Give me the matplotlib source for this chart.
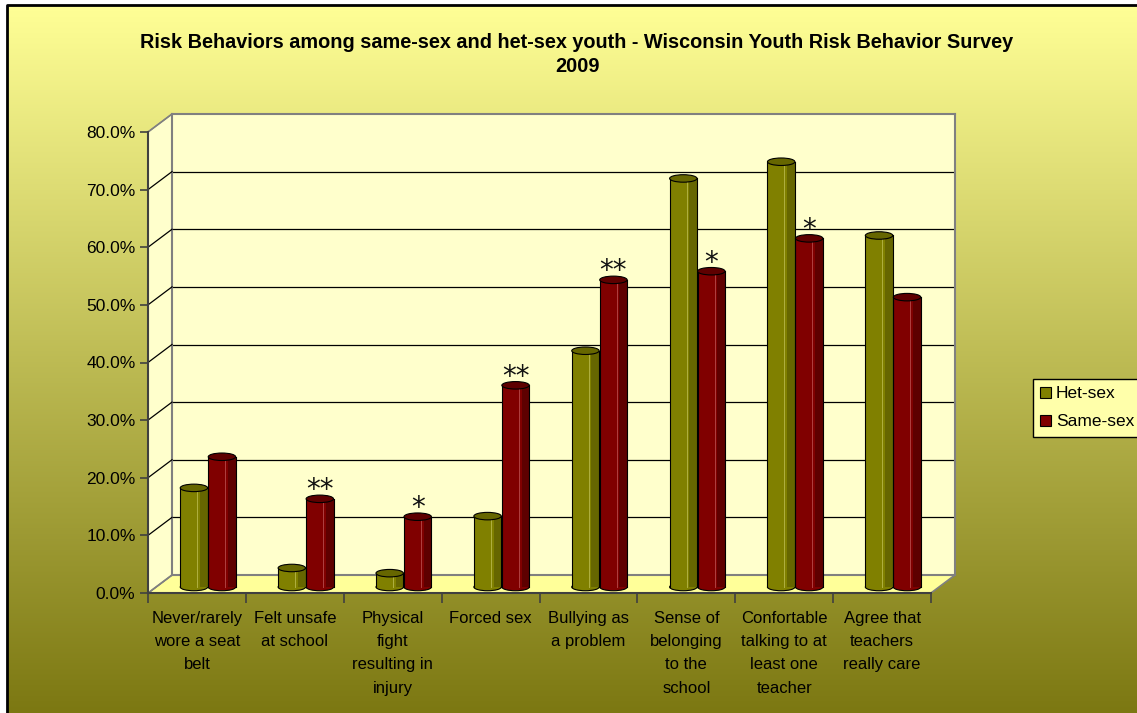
import numpy as np
import matplotlib
matplotlib.use("Agg")
import matplotlib.pyplot as plt
import matplotlib.transforms as mtransforms
from matplotlib.patches import Ellipse, Polygon, Rectangle

plt.rcParams['font.family'] = ['Liberation Sans', 'DejaVu Sans']

# data
categories = ["Never/rarely\nwore a seat\nbelt", "Felt unsafe\nat school",
              "Physical\nfight\nresulting in\ninjury", "Forced sex",
              "Bullying as\na problem", "Sense of\nbelonging\nto the\nschool",
              "Confortable\ntalking to at\nleast one\nteacher",
              "Agree that\nteachers\nreally care"]
het_sex = [17.2, 3.3, 2.4, 12.3, 41.0, 70.9, 73.8, 61.0]
same_sex = [22.6, 15.3, 12.2, 35.0, 53.3, 54.8, 60.5, 50.3]
signif = ["", "**", "*", "**", "**", "*", "*", ""]
yticks = [0, 10, 20, 30, 40, 50, 60, 70, 80]

W, H = 1137, 713
fig = plt.figure(figsize=(W / 100, H / 100), dpi=100)
fig.patch.set_facecolor('white')

# background gradient of the chart area
bg = fig.add_axes([7 / W, 0, 1 - 7 / W, (H - 5) / H], zorder=0)
top_c = np.array([255, 255, 150]) / 255
bot_c = np.array([124, 120, 18]) / 255
t = np.linspace(0, 1, 256)[:, None]
grad = top_c[None, :] * (1 - t) + bot_c[None, :] * t
bg.imshow(grad[:, None, :], aspect='auto', extent=[0, 1, 0, 1])
bg.set_xlim(0, 1)
bg.set_ylim(0, 1)
bg.set_xticks([])
bg.set_yticks([])
for s in bg.spines.values():
    s.set_visible(False)
bg.plot([0, 0, 1], [0, 1, 1], color='black', lw=2, transform=bg.transAxes, clip_on=False)

# back wall
x0, y0, x1, y1 = 172, 575, 955, 114
ax = fig.add_axes([x0 / W, (H - y0) / H, (x1 - x0) / W, (y0 - y1) / H], zorder=1)
ax.set_facecolor('#FFFFCC')
ax.set_xlim(0, 8)
ax.set_ylim(0, 80)
ax.set_xticks([])
ax.set_yticks([])
for s in ax.spines.values():
    s.set_color('#808080')
    s.set_linewidth(1.5)
for v in yticks[1:-1]:
    ax.axhline(v, color='black', lw=0.9, zorder=1)

front = mtransforms.ScaledTranslation(-24 / 100, -18 / 100, fig.dpi_scale_trans)
mid = mtransforms.ScaledTranslation(-13 / 100, -12 / 100, fig.dpi_scale_trans)
tr_front = ax.transData + front
tr_mid = ax.transData + mid

# floor and side wall
floor_back = ax.transData.transform([(0, 0), (8, 0)])
floor_front = tr_front.transform([(8, 0), (0, 0)])
ax.add_patch(Polygon(np.vstack([floor_back, floor_front]), closed=True,
                     transform=None, facecolor='#FFFF99', edgecolor='#808080',
                     lw=1.2, clip_on=False, zorder=2))
side_back = ax.transData.transform([(0, 0), (0, 80)])
side_front = tr_front.transform([(0, 80), (0, 0)])
ax.add_patch(Polygon(np.vstack([side_back, side_front]), closed=True,
                     transform=None, facecolor='#FFFFCC', edgecolor='#808080',
                     lw=1.2, clip_on=False, zorder=2))
for v in yticks:
    p = np.vstack([tr_front.transform((0, v)), ax.transData.transform((0, v))])
    ax.plot(p[:, 0], p[:, 1], transform=None, color='black' if 0 < v < 80 else '#808080',
            lw=0.9, clip_on=False, zorder=3)

# cylinder bars
bw = 0.28
xs = np.arange(len(categories)) + 0.5


def cylinder(x, v, base, dark, light):
    ax.add_patch(Ellipse((x, 0), bw, 1.3, transform=tr_mid, facecolor=base,
                         edgecolor='black', lw=0.8, clip_on=False, zorder=4))
    ax.add_patch(Rectangle((x - bw / 2, 0), bw, v, transform=tr_mid, facecolor=base,
                           edgecolor='none', clip_on=False, zorder=5))
    ax.add_patch(Rectangle((x + bw * 0.22, 0), bw * 0.28, v, transform=tr_mid,
                           facecolor=dark, edgecolor='none', clip_on=False, zorder=5))
    ax.plot([x + bw * 0.12, x + bw * 0.12], [0, v], transform=tr_mid, color=light,
            lw=0.7, clip_on=False, zorder=6)
    ax.plot([x - bw / 2, x - bw / 2], [0, v], transform=tr_mid, color='black',
            lw=0.8, clip_on=False, zorder=6)
    ax.plot([x + bw / 2, x + bw / 2], [0, v], transform=tr_mid, color='black',
            lw=0.8, clip_on=False, zorder=6)
    ax.add_patch(Ellipse((x, v), bw, 1.3, transform=tr_mid, facecolor=dark,
                         edgecolor='black', lw=0.8, clip_on=False, zorder=7))


for i in range(len(categories)):
    cylinder(xs[i] - 0.143, het_sex[i], '#808000', '#666600', '#B0B040')
    cylinder(xs[i] + 0.143, same_sex[i], '#800000', '#5E0000', '#B04040')
    if signif[i]:
        ax.annotate(signif[i], (xs[i] + 0.143, same_sex[i]), xycoords=tr_mid,
                    xytext=(0, 0.5), textcoords='offset points', ha='center', va='baseline',
                    fontsize=20, family='DejaVu Sans', color='#111111', zorder=8,
                    annotation_clip=False)

# front axes carrying ticks and labels
fx0, fy0 = x0 - 24, y0 + 18
fa = fig.add_axes([fx0 / W, (H - fy0) / H, (x1 - x0) / W, (y0 - y1) / H], zorder=2)
fa.patch.set_visible(False)
fa.set_xlim(0, 8)
fa.set_ylim(0, 80)
for s in ['top', 'right']:
    fa.spines[s].set_visible(False)
fa.spines['left'].set_color('#404040')
fa.spines['bottom'].set_color('#404040')
fa.spines['left'].set_linewidth(1.5)
fa.spines['bottom'].set_linewidth(1.5)
fa.set_yticks(yticks)
fa.set_yticklabels([f"{v:.1f}%" for v in yticks], fontsize=12.5)
fa.set_xticks(range(9))
fa.set_xticklabels([])
fa.set_xticks(xs, minor=True)
fa.set_xticklabels(categories, minor=True, fontsize=12, linespacing=1.68, va='top')
fa.tick_params(axis='y', length=6, width=1.2, color='#404040', pad=3)
fa.tick_params(axis='x', which='major', length=7, width=1.2, color='#404040')
fa.tick_params(axis='x', which='minor', length=0, pad=13)

# title
fig.text(577 / W, 1 - 42 / H, "Risk Behaviors among same-sex and het-sex youth - Wisconsin Youth Risk Behavior Survey",
         ha='center', va='center', fontsize=14.3, fontweight='bold')
fig.text(577 / W, 1 - 66 / H, "2009", ha='center', va='center', fontsize=14.3, fontweight='bold')

# legend
h1 = Rectangle((0, 0), 1, 1, facecolor='#808000', edgecolor='black', lw=0.8)
h2 = Rectangle((0, 0), 1, 1, facecolor='#800000', edgecolor='black', lw=0.8)
leg = fig.legend([h1, h2], ["Het-sex", "Same-sex"], loc='upper left',
                 bbox_to_anchor=(1033 / W, 1 - 379 / H), fontsize=12.5,
                 frameon=True, fancybox=False, framealpha=1, handlelength=0.6,
                 handleheight=0.6, handletextpad=0.3, borderpad=0.42,
                 labelspacing=0.75, borderaxespad=0)
leg.get_frame().set_facecolor('#FFFFAA')
leg.get_frame().set_edgecolor('black')
leg.set_zorder(5)

fig.savefig("out.png", dpi=100)
